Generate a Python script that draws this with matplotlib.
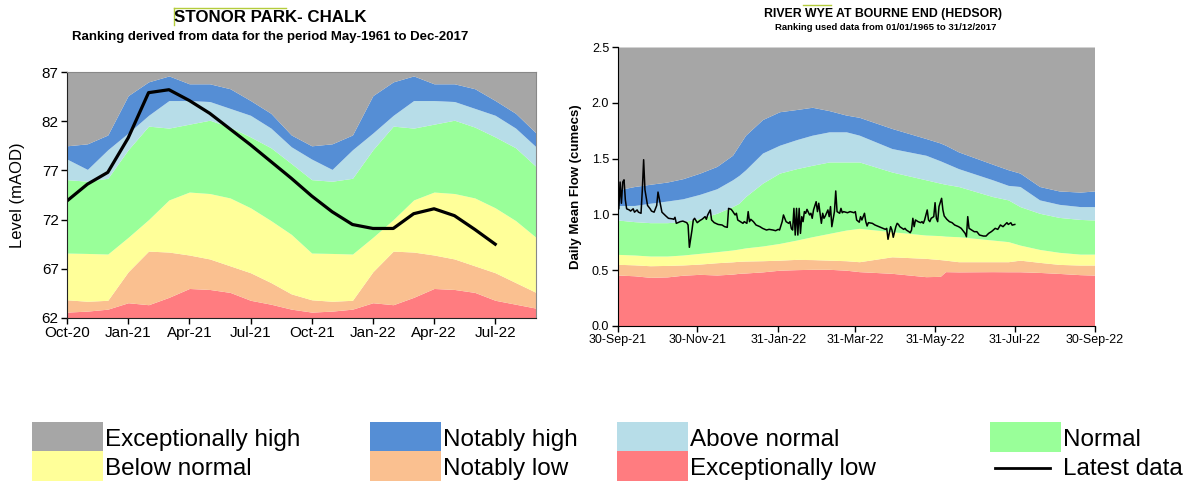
import numpy as np
import pandas as pd
import matplotlib
matplotlib.use("Agg")
import matplotlib.pyplot as plt
from matplotlib.patches import Rectangle
from matplotlib.lines import Line2D

plt.rcParams['font.family'] = ['Liberation Sans', 'DejaVu Sans']

# ---- left chart: groundwater level, monthly band limits (mAOD) ----
gw_months = pd.date_range("2020-10-01", "2022-09-01", freq="MS")
gw_ticks = ["Oct-20", "Jan-21", "Apr-21", "Jul-21", "Oct-21", "Jan-22", "Apr-22", "Jul-22"]
# upper limit of each band, from exceptionally low up to notably high
gw_exc_low = [62.6, 62.7, 62.9, 63.55, 63.35, 64.1, 65.0, 64.9, 64.6, 63.8, 63.4, 62.9,
              62.6, 62.7, 62.9, 63.55, 63.35, 64.1, 65.0, 64.9, 64.6, 63.8, 63.4, 63.0]
gw_not_low = [63.85, 63.7, 63.8, 66.7, 68.8, 68.7, 68.4, 68.0, 67.3, 66.6, 65.6, 64.45,
              63.85, 63.7, 63.8, 66.7, 68.8, 68.7, 68.4, 68.0, 67.3, 66.6, 65.6, 64.6]
gw_below = [68.6, 68.56, 68.5, 70.2, 72.0, 74.0, 74.8, 74.65, 74.2, 73.2, 71.9, 70.5,
            68.6, 68.56, 68.5, 70.2, 72.0, 74.0, 74.8, 74.65, 74.2, 73.2, 71.9, 70.2]
gw_normal = [76.06, 75.9, 76.2, 79.1, 81.5, 81.3, 81.7, 82.1, 81.4, 80.4, 79.3, 77.7,
             76.06, 75.9, 76.2, 79.1, 81.5, 81.3, 81.7, 82.1, 81.4, 80.4, 79.3, 77.4]
gw_above = [78.15, 77.1, 79.1, 80.8, 82.6, 84.1, 84.1, 84.0, 83.3, 82.6, 81.3, 79.4,
            78.15, 77.1, 79.1, 80.8, 82.6, 84.1, 84.1, 84.0, 83.3, 82.6, 81.3, 79.4]
gw_not_high = [79.5, 79.7, 80.6, 84.6, 86.0, 86.6, 85.8, 85.8, 85.3, 84.1, 82.8, 80.6,
               79.5, 79.7, 80.6, 84.6, 86.0, 86.6, 85.8, 85.8, 85.3, 84.1, 82.8, 80.8]
gw_latest = [73.9, 75.6, 76.8, 80.3, 84.9, 85.2, 84.1, 82.8, 81.2, 79.6, 77.9, 76.2,
             74.4, 72.8, 71.5, 71.1, 71.1, 72.6, 73.1, 72.4, 71.0, 69.5]

# ---- right chart: river flow (cumecs), days after 30-Sep-21 ----
fl_start = pd.Timestamp("2021-09-30")
fl_ticks = ["30-Sep-21", "30-Nov-21", "31-Jan-22", "31-Mar-22", "31-May-22", "31-Jul-22", "30-Sep-22"]
band_days = [0, 13, 25, 38, 50, 63, 76, 88, 93, 98, 111, 124, 137, 149, 162, 175, 185,
             210, 236, 247, 251, 261, 287, 299, 308, 323, 338, 354, 365]
fl_exc_low = [0.457, 0.45, 0.436, 0.44, 0.455, 0.463, 0.457, 0.465, 0.472, 0.475, 0.485, 0.50,
              0.505, 0.508, 0.508, 0.50, 0.487, 0.472, 0.442, 0.445, 0.487, 0.485, 0.487,
              0.486, 0.486, 0.48, 0.471, 0.46, 0.456]
fl_not_low = [0.553, 0.548, 0.54, 0.543, 0.547, 0.555, 0.567, 0.575, 0.58, 0.582, 0.585, 0.59,
              0.597, 0.595, 0.59, 0.585, 0.576, 0.62, 0.606, 0.595, 0.59, 0.576, 0.576,
              0.576, 0.59, 0.57, 0.552, 0.546, 0.546]
fl_below = [0.642, 0.636, 0.627, 0.627, 0.636, 0.651, 0.666, 0.681, 0.69, 0.70, 0.717, 0.74,
            0.77, 0.80, 0.83, 0.86, 0.875, 0.845, 0.815, 0.81, 0.805, 0.80, 0.77, 0.756,
            0.725, 0.686, 0.66, 0.644, 0.644]
fl_normal = [0.95, 0.935, 0.926, 0.926, 0.935, 0.965, 1.01, 1.07, 1.10, 1.16, 1.28, 1.37,
             1.41, 1.44, 1.47, 1.47, 1.47, 1.38, 1.31, 1.28, 1.27, 1.25, 1.16, 1.13, 1.07,
             1.01, 0.973, 0.955, 0.95]
fl_above = [1.08, 1.08, 1.10, 1.12, 1.14, 1.18, 1.23, 1.31, 1.35, 1.40, 1.55, 1.62, 1.67,
            1.71, 1.74, 1.74, 1.71, 1.59, 1.53, 1.48, 1.46, 1.41, 1.31, 1.26, 1.25, 1.13,
            1.09, 1.07, 1.07]
fl_not_high = [1.22, 1.25, 1.27, 1.29, 1.32, 1.37, 1.43, 1.53, 1.62, 1.71, 1.85, 1.92, 1.94,
               1.96, 1.93, 1.89, 1.87, 1.77, 1.68, 1.64, 1.62, 1.56, 1.45, 1.40, 1.37, 1.25,
               1.21, 1.20, 1.21]
flow_days = [0, 1, 2, 3, 4, 5, 6, 7, 9, 10, 12, 13, 15, 16, 18, 19, 20, 21, 23, 25, 26, 28,
             30, 31, 33, 34, 37, 39, 42, 43, 44, 45, 48, 50, 53, 54, 55, 57, 58, 59, 61, 63,
             65, 67, 68, 69, 71, 72, 74, 77, 80, 82, 84, 85, 87, 88, 90, 91, 92, 94, 96, 97,
             99, 100, 101, 102, 104, 106, 109, 111, 114, 116, 119, 121, 123, 124, 126, 127,
             128, 129, 131, 132, 133, 134, 135, 136, 137, 138, 139, 140, 141, 142, 143, 144,
             145, 147, 148, 149, 150, 152, 153, 154, 156, 157, 158, 159, 161, 162, 163, 164,
             166, 167, 168, 170, 171, 172, 173, 176, 178, 181, 182, 183, 185, 186, 187, 189,
             190, 191, 192, 195, 197, 200, 202, 205, 206, 207, 209, 210, 211, 213, 214, 215,
             216, 219, 220, 221, 223, 224, 225, 226, 227, 228, 230, 232, 233, 234, 235, 237,
             238, 239, 240, 242, 243, 244, 245, 246, 248, 249, 250, 252, 254, 256, 258, 261,
             263, 266, 267, 268, 269, 271, 273, 275, 277, 280, 282, 284, 286, 287, 289, 291,
             293, 295, 298, 299, 301, 302, 304]
flow_latest = [1.04, 1.05, 1.29, 1.10, 1.29, 1.31, 1.13, 1.05, 1.04, 1.03, 1.05, 1.02, 1.04,
               1.02, 1.01, 1.22, 1.49, 1.22, 1.08, 1.05, 1.03, 1.02, 1.08, 1.20, 1.08, 1.02,
               0.986, 0.965, 0.96, 0.956, 0.974, 0.92, 0.935, 0.94, 0.926, 0.905, 0.705, 0.86,
               0.95, 0.965, 0.926, 0.944, 0.959, 0.98, 0.956, 0.995, 1.04, 0.95, 0.926, 0.91,
               0.905, 0.89, 0.884, 1.054, 1.045, 1.03, 0.995, 1.01, 0.95, 0.935, 0.92, 0.935,
               0.92, 1.025, 0.935, 0.956, 0.935, 0.905, 0.89, 0.875, 0.86, 0.866, 0.86, 0.854,
               0.866, 0.86, 0.935, 0.995, 0.965, 0.935, 0.92, 0.935, 0.875, 0.86, 1.054, 0.815,
               1.054, 0.815, 1.054, 0.83, 0.98, 0.935, 1.025, 1.01, 1.045, 0.995, 1.01, 0.965,
               1.04, 1.114, 1.025, 1.10, 0.92, 1.01, 0.965, 0.986, 1.04, 0.98, 1.07, 0.89,
               1.025, 1.21, 1.025, 1.01, 1.054, 1.015, 1.025, 1.015, 1.025, 1.015, 1.025, 0.95,
               0.93, 0.98, 0.95, 1.01, 0.935, 0.896, 0.926, 0.92, 0.905, 0.89, 0.88, 0.866,
               0.875, 0.777, 0.89, 0.86, 0.795, 0.89, 0.92, 0.91, 0.89, 0.866, 0.875, 0.86,
               0.845, 0.836, 0.86, 0.965, 0.89, 0.95, 0.935, 0.926, 0.935, 0.92, 0.95, 1.04,
               0.95, 0.935, 0.965, 0.98, 1.105, 0.965, 0.935, 1.07, 1.144, 1.04, 0.986, 0.956,
               0.935, 0.926, 0.905, 0.89, 0.875, 0.83, 0.80, 0.98, 0.875, 0.86, 0.845, 0.845,
               0.815, 0.806, 0.806, 0.83, 0.845, 0.854, 0.875, 0.866, 0.905, 0.89, 0.926, 0.91,
               0.925, 0.904, 0.91]

band_names = ["Exceptionally high", "Notably high", "Above normal", "Normal",
              "Below normal", "Notably low", "Exceptionally low"]
band_colors = ["#a6a6a6", "#558ed5", "#b7dde8", "#99ff99", "#ffff99", "#fac090", "#ff7c80"]


def draw_bands(ax, x, limits, ymin, ymax):
    # limits go from the lowest band upwards
    edges = [np.full(len(x), ymin)] + [np.asarray(l) for l in limits] + [np.full(len(x), ymax)]
    colors = band_colors[::-1]
    for i in range(len(edges) - 1):
        ax.fill_between(x, edges[i], edges[i + 1], color=colors[i], lw=0)


fig = plt.figure(figsize=(11.89, 4.83), dpi=100)
W, H = 1189.0, 483.0

# left chart
ax1 = fig.add_axes([67 / W, 1 - 318 / H, 469 / W, 246 / H])
gx = np.arange(len(gw_months))
draw_bands(ax1, gx, [gw_exc_low, gw_not_low, gw_below, gw_normal, gw_above, gw_not_high], 62, 87)
ax1.plot(np.arange(len(gw_latest)), gw_latest, color="black", lw=2.3)
ax1.set_xlim(0, len(gw_months) - 1)
ax1.set_ylim(62, 87)
ax1.set_yticks(np.arange(62, 88, 5))
tick_pos = [list(gw_months.strftime("%b-%y")).index(t) for t in gw_ticks]
ax1.set_xticks(tick_pos)
ax1.set_xticklabels(gw_ticks)
ax1.tick_params(labelsize=11, length=4, width=1, direction="out", pad=2)
ax1.set_ylabel("Level (mAOD)", fontsize=12, labelpad=12)
for side in ["left", "bottom"]:
    ax1.spines[side].set_color("#222222")
for side in ["top", "right"]:
    ax1.spines[side].set_color("#888888")

fig.text(270 / W, 1 - 17 / H, "STONOR PARK- CHALK", ha="center", va="center",
         fontsize=12.2, fontweight="bold")
fig.text(270 / W, 1 - 37 / H, "Ranking derived from data for the period May-1961 to Dec-2017",
         ha="center", va="center", fontsize=9.5, fontweight="bold")
fig.add_artist(Line2D([174 / W, 286 / W], [1 - 8 / H, 1 - 8 / H], color="#b4cc3c", lw=1))
fig.add_artist(Line2D([174 / W, 174 / W], [1 - 8 / H, 1 - 25 / H], color="#b4cc3c", lw=1))

# right chart
ax2 = fig.add_axes([617.5 / W, 1 - 326 / H, 477 / W, 279 / H])
draw_bands(ax2, band_days, [fl_exc_low, fl_not_low, fl_below, fl_normal, fl_above, fl_not_high], 0, 2.5)
ax2.plot(flow_days, flow_latest, color="black", lw=1.1)
ax2.set_xlim(0, 365)
ax2.set_ylim(0, 2.5)
ax2.set_yticks(np.arange(0, 2.51, 0.5))
ax2.set_yticklabels(["%.1f" % v for v in np.arange(0, 2.51, 0.5)])
ax2.set_xticks([(pd.to_datetime(t, format="%d-%b-%y") - fl_start).days for t in fl_ticks])
ax2.set_xticklabels(fl_ticks)
ax2.tick_params(labelsize=9, length=4, width=1, direction="out", pad=2)
ax2.set_ylabel("Daily Mean Flow (cumecs)", fontsize=9.5, fontweight="bold", labelpad=7)
ax2.spines["top"].set_visible(False)
ax2.spines["right"].set_visible(False)

fig.text(883 / W, 1 - 14 / H, "RIVER WYE AT BOURNE END (HEDSOR)", ha="center", va="center",
         fontsize=8.8, fontweight="bold")
fig.text(886 / W, 1 - 27 / H, "Ranking used data from 01/01/1965 to 31/12/2017",
         ha="center", va="center", fontsize=6.8, fontweight="bold")
fig.add_artist(Line2D([803 / W, 831 / W], [1 - 5 / H, 1 - 5 / H], color="#b4cc3c", lw=1))

# legend, laid out by hand
leg_x = [32, 370, 617, 990]
leg_rows = [(422, 446), (451, 475)]
leg_items = [(0, 0, 0), (1, 0, 1), (2, 0, 2), (3, 0, 3),
             (4, 1, 0), (5, 1, 1), (6, 1, 2)]
for band, row, col in leg_items:
    top, base = leg_rows[row]
    fig.add_artist(Rectangle((leg_x[col] / W, 1 - (top + 29.5) / H), 71 / W, 29.5 / H,
                             facecolor=band_colors[band], edgecolor="none",
                             transform=fig.transFigure))
    fig.text((leg_x[col] + 73) / W, 1 - base / H, band_names[band], fontsize=17.5,
             ha="left", va="baseline")
fig.add_artist(Line2D([995 / W, 1050 / W], [1 - 468 / H, 1 - 468 / H], color="black", lw=2))
fig.text(1063 / W, 1 - 475 / H, "Latest data", fontsize=17.5, ha="left", va="baseline")

fig.savefig("out.png", dpi=100)
